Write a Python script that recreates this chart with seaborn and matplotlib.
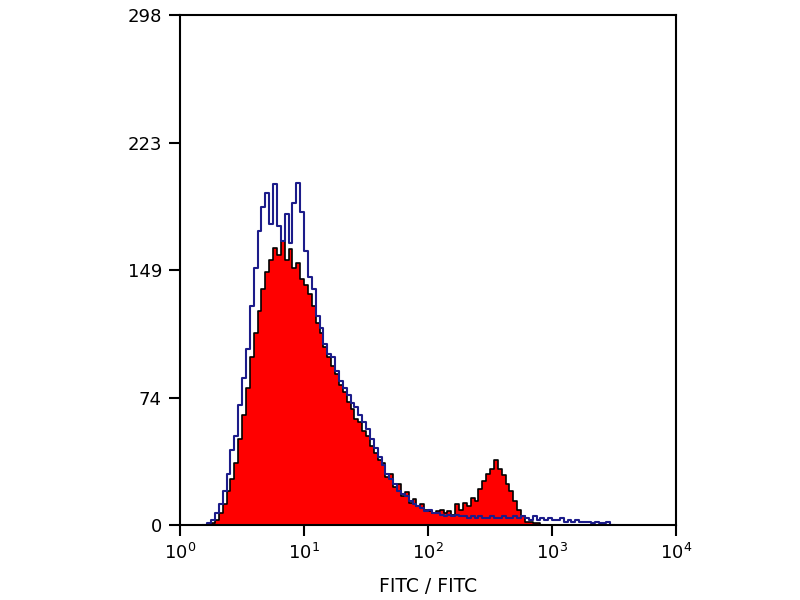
import numpy as np
import pandas as pd
import matplotlib
matplotlib.use("Agg")
import matplotlib.pyplot as plt
import seaborn as sns

# channel layout: 32 bins per decade, first listed bin is channel 6
BINS_PER_DECADE = 32
FIRST_BIN = 6

# stained sample (red, filled)
red_counts = [0, 0, 1, 3, 7, 12, 20, 27, 36, 50,
              64, 80, 98, 112, 125, 138, 148, 155, 162, 158,
              166, 155, 161, 150, 153, 144, 140, 135, 128, 118,
              112, 104, 98, 93, 88, 82, 78, 72, 68, 62,
              60, 55, 52, 46, 42, 38, 36, 28, 30, 22,
              24, 17, 19, 13, 15, 11, 12, 9, 8, 7,
              8, 9, 7, 8, 6, 12, 9, 13, 11, 16,
              14, 21, 26, 30, 33, 38, 33, 29, 24, 20,
              14, 9, 5, 2, 2, 1, 1, 0, 0, 0,
              0, 0, 0, 0, 0, 0, 0, 0, 0, 0,
              0, 0, 0, 0, 0, 0]

# isotype control (blue outline)
blue_counts = [0, 1, 3, 7, 12, 20, 30, 44, 52, 70,
               86, 103, 128, 150, 172, 186, 194, 176, 199, 175,
               166, 182, 165, 188, 200, 183, 160, 145, 138, 122,
               115, 106, 100, 98, 90, 84, 80, 76, 71, 69,
               64, 60, 56, 50, 45, 40, 35, 30, 27, 24,
               20, 18, 17, 14, 12, 11, 10, 8, 9, 7,
               7, 6, 5, 6, 5, 6, 5, 5, 4, 5,
               4, 5, 4, 4, 5, 4, 4, 5, 4, 4,
               5, 4, 5, 4, 3, 5, 3, 4, 3, 4,
               3, 3, 4, 2, 3, 2, 3, 2, 2, 2,
               1, 2, 1, 1, 2, 0]

y_ticks = [0, 74, 149, 223, 298]
x_ticks = [1, 10, 100, 1000, 10000]
x_labels = ["$10^{0}$", "$10^{1}$", "$10^{2}$", "$10^{3}$", "$10^{4}$"]

plt.rcParams['font.family'] = ['DejaVu Sans']
plt.rcParams['mathtext.fontset'] = 'dejavusans'

n = len(red_counts)
log_edges = list((np.arange(n + 1) + FIRST_BIN) / BINS_PER_DECADE)
df = pd.DataFrame({
    "fitc": 10 ** ((np.arange(n) + FIRST_BIN + 0.5) / BINS_PER_DECADE),
    "red": np.array(red_counts, dtype=float),
    "blue": np.array(blue_counts, dtype=float),
})

fig = plt.figure(figsize=(8, 6), dpi=100)
ax = fig.add_axes([0.225, 0.125, 0.62, 0.85])

sns.histplot(data=df, x="fitc", weights="red", bins=log_edges, log_scale=True,
             element="step", fill=True, color="#ff0000", alpha=1,
             edgecolor="black", linewidth=1.2, ax=ax)
sns.histplot(data=df, x="fitc", weights="blue", bins=log_edges, log_scale=True,
             element="step", fill=False, color="#1c1c8a", linewidth=1.5, ax=ax)

ax.set_xlim(1, 10000)
ax.set_ylim(0, 298)
ax.set_xticks(x_ticks)
ax.set_xticklabels(x_labels)
ax.minorticks_off()
ax.set_yticks(y_ticks)
ax.set_ylabel("")
ax.set_xlabel("FITC / FITC", fontsize=13.5, labelpad=10)

for s in ax.spines.values():
    s.set_linewidth(1.5)
    s.set_color("black")
ax.tick_params(axis="both", length=8, width=1.5, labelsize=13, pad=5, colors="black")

fig.savefig("out.png", dpi=100, facecolor="white")
